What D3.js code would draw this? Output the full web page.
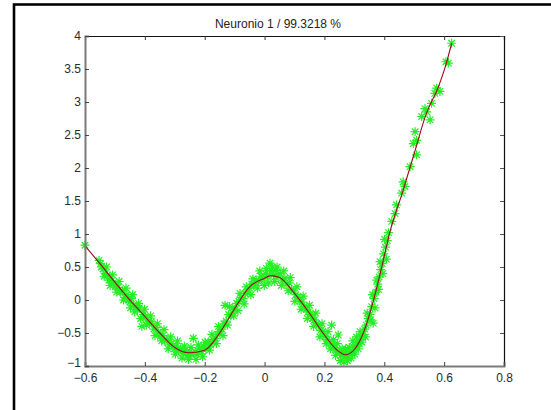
<!DOCTYPE html>
<html><head><meta charset="utf-8">
<script src="https://cdn.jsdelivr.net/npm/d3@7"></script>
<style>
html,body{margin:0;padding:0;background:#fff;}
svg{display:block;}
text{font-family:"Liberation Sans",Arial,sans-serif;}
</style></head>
<body>
<script>
// ---- data ----
const title = "Neuronio 1 / 99.3218 %";
const xTicks = [-0.6,-0.4,-0.2,0,0.2,0.4,0.6,0.8];
const yTicks = [-1,-0.5,0,0.5,1,1.5,2,2.5,3,3.5,4];

// fitted curve (red line)
const curveX = [-0.6,-0.55,-0.5,-0.46,-0.4,-0.35,-0.3,-0.255,-0.2,-0.15,-0.1,-0.05,0.0,0.02,0.05,0.1,0.15,0.2,0.24,0.27,0.3,0.33,0.36,0.39,0.42,0.46,0.5,0.54,0.58,0.605,0.625];
const curveY = [0.82,0.55,0.27,0.05,-0.25,-0.5,-0.72,-0.8,-0.76,-0.5,-0.13,0.2,0.33,0.37,0.34,0.1,-0.2,-0.53,-0.75,-0.83,-0.75,-0.5,-0.07,0.47,1.05,1.62,2.22,2.82,3.22,3.55,3.89];

// training samples (green asterisks)
const sampleX = [
-0.600,-0.548,-0.545,-0.540,-0.532,-0.525,-0.520,-0.512,-0.505,-0.498,-0.490,-0.482,-0.475,-0.468,-0.460,-0.455,-0.450,-0.445,-0.438,-0.430,-0.425,-0.418,-0.410,-0.405,-0.398,-0.392,
-0.385,-0.378,-0.370,-0.362,-0.355,-0.348,-0.340,-0.333,-0.326,-0.318,-0.310,-0.302,-0.295,-0.288,-0.280,-0.272,-0.265,-0.258,-0.250,-0.243,-0.238,-0.232,-0.225,-0.218,-0.210,-0.203,-0.196,-0.188,-0.180,-0.172,-0.165,-0.158,-0.150,-0.143,-0.136,-0.132,-0.128,-0.120,-0.113,-0.106,-0.100,
-0.093,-0.086,-0.079,-0.072,-0.065,-0.058,-0.050,-0.043,-0.036,-0.028,-0.020,-0.012,-0.005,0.003,0.010,0.018,0.022,0.030,0.038,0.045,0.052,0.060,0.068,0.075,0.082,0.090,0.097,0.104,0.111,0.118,0.125,0.132,0.139,0.146,0.153,0.160,0.167,0.174,0.181,0.188,0.195,0.202,
0.209,0.216,0.224,0.226,0.233,0.240,0.246,0.250,0.256,0.262,0.268,0.274,0.280,0.286,0.292,0.298,0.304,0.310,0.316,0.322,0.328,0.334,0.340,0.346,0.352,0.358,0.363,0.366,0.372,0.378,0.383,0.388,0.393,0.398,0.404,0.410,
0.425,0.436,0.441,0.458,0.463,0.469,0.486,0.497,0.503,0.508,0.508,0.525,0.536,0.542,0.553,0.558,0.569,0.575,0.586,0.606,0.614,0.625,
-0.553,-0.536,-0.528,-0.516,-0.508,-0.494,-0.486,-0.471,-0.463,-0.448,-0.441,-0.434,-0.421,-0.414,-0.401,-0.395,
-0.381,-0.366,-0.358,-0.344,-0.336,-0.322,-0.314,-0.298,-0.291,-0.276,-0.268,-0.254,-0.246,-0.229,-0.221,-0.207,-0.199,-0.184,-0.176,-0.161,-0.154,-0.139,-0.124,-0.117,-0.103,
-0.089,-0.082,-0.068,-0.061,-0.046,-0.039,-0.024,-0.016,-0.001,0.006,0.014,0.026,0.034,0.042,0.056,0.064,0.079,0.086,0.101,0.108,0.122,0.129,0.143,0.150,0.164,0.171,0.185,0.192,0.206,
0.212,0.220,0.230,0.237,0.243,0.253,0.259,0.265,0.271,0.277,0.283,0.289,0.295,0.301,0.307,0.313,0.319,0.325,0.337,0.343,0.355,0.361,0.369,0.375,0.381,0.386,0.395,0.401,0.407,0.414
];
const sampleY = [
0.83,0.55,0.50,0.47,0.40,0.38,0.30,0.29,0.26,0.20,0.19,0.12,0.14,0.04,0.08,0.00,-0.03,0.02,-0.08,-0.10,-0.15,-0.12,-0.40,-0.22,-0.26,-0.30,
-0.36,-0.33,-0.44,-0.42,-0.50,-0.55,-0.54,-0.62,-0.60,-0.68,-0.66,-0.74,-0.70,-0.77,-0.74,-0.80,-0.76,-0.84,-0.79,-0.83,-0.58,-0.78,-0.82,-0.74,-0.78,-0.70,-0.74,-0.64,-0.68,-0.60,-0.58,-0.52,-0.48,-0.44,-0.36,-0.08,-0.32,-0.22,-0.24,-0.12,-0.15,
-0.05,-0.02,0.04,0.02,0.10,0.12,0.18,0.24,0.22,0.30,0.28,0.36,0.32,0.40,0.36,0.56,0.44,0.38,0.45,0.36,0.40,0.30,0.33,0.24,0.26,0.16,0.14,0.08,0.04,-0.02,-0.03,-0.10,-0.14,-0.18,-0.22,-0.28,-0.30,-0.36,-0.38,-0.46,-0.48,-0.55,
-0.60,-0.62,-0.38,-0.68,-0.72,-0.76,-0.53,-0.80,-0.84,-0.80,-0.86,-0.82,-0.84,-0.78,-0.80,-0.72,-0.70,-0.64,-0.66,-0.56,-0.52,-0.44,-0.38,-0.28,-0.22,-0.10,-0.35,0.02,0.12,0.24,0.35,0.46,0.55,0.70,0.80,0.90,
1.19,1.31,1.44,1.62,1.79,1.72,2.02,2.37,2.55,2.42,2.20,2.78,2.90,2.85,2.73,2.98,3.13,3.21,3.16,3.61,3.59,3.89,
0.60,0.36,0.50,0.22,0.38,0.12,0.28,0.00,0.18,-0.12,0.08,-0.18,-0.05,-0.28,-0.14,-0.38,
-0.24,-0.54,-0.36,-0.62,-0.45,-0.74,-0.56,-0.82,-0.62,-0.88,-0.70,-0.90,-0.72,-0.90,-0.68,-0.86,-0.64,-0.76,-0.52,-0.66,-0.40,-0.54,-0.38,-0.10,-0.24,
-0.16,0.10,-0.06,0.20,0.08,0.32,0.18,0.44,0.22,0.48,0.26,0.50,0.28,0.50,0.22,0.44,0.14,0.34,-0.02,0.20,-0.14,0.06,-0.28,-0.08,-0.40,-0.20,-0.56,-0.36,-0.66,
-0.48,-0.74,-0.60,-0.84,-0.66,-0.92,-0.74,-0.94,-0.74,-0.92,-0.72,-0.88,-0.62,-0.82,-0.56,-0.74,-0.48,-0.64,-0.56,-0.20,-0.30,0.08,-0.12,0.30,0.16,0.58,0.40,0.92,0.62,1.02
];

// ---- drawing ----
const W = 551, H = 410;
const svg = d3.select("body").append("svg").attr("width", W).attr("height", H);

// outer figure frame
svg.append("rect").attr("x", 14).attr("y", 4.5).attr("width", 600).attr("height", 500)
  .attr("fill", "none").attr("stroke", "#000").attr("stroke-width", 2.6);

const L = 85, R = 504, T = 36, B = 366;
const x = d3.scaleLinear().domain([-0.6, 0.8]).range([L, R]);
const y = d3.scaleLinear().domain([-1, 4]).range([B, T]);

const fmt = d => d3.format("")(+d.toFixed(1));
const box = svg.append("g");
// top axis
box.append("g").attr("transform", `translate(0,${T})`)
  .call(d3.axisTop(x).tickValues(xTicks).tickSize(-4).tickFormat(""))
  .call(g => { g.select(".domain").attr("stroke", "#111").attr("stroke-width", 1.2); g.selectAll(".tick line").attr("stroke", "#333"); });
// right axis
box.append("g").attr("transform", `translate(${R},0)`)
  .call(d3.axisRight(y).tickValues(yTicks).tickSize(-4).tickFormat(""))
  .call(g => { g.select(".domain").attr("stroke", "#111").attr("stroke-width", 1.2); g.selectAll(".tick line").attr("stroke", "#555"); });

// samples (asterisks)
const samples = sampleX.map((v, i) => [v, sampleY[i]]);
const s = 4.5;
const ast = svg.append("g").attr("stroke", "#22ee22").attr("stroke-width", 1.2).attr("fill", "none");
ast.selectAll("path").data(samples).join("path")
  .attr("d", d => {
    const cx = x(d[0]), cy = y(d[1]), k = s * 0.72;
    return `M${cx - s},${cy}H${cx + s}M${cx},${cy - s}V${cy + s}M${cx - k},${cy - k}L${cx + k},${cy + k}M${cx - k},${cy + k}L${cx + k},${cy - k}`;
  });

// fitted curve
const curve = curveX.map((v, i) => [v, curveY[i]]);
svg.append("path").datum(curve)
  .attr("fill", "none").attr("stroke", "#9a0a1e").attr("stroke-width", 1.1)
  .attr("d", d3.line().x(d => x(d[0])).y(d => y(d[1])).curve(d3.curveMonotoneX));

const styleAxis = g => {
  g.select(".domain").attr("stroke", "#7a7a7a").attr("stroke-width", 2);
  g.selectAll(".tick line").attr("stroke", "#444");
  g.selectAll(".tick text").attr("fill", "#2a2a2a").attr("font-size", 12).attr("font-family", "'Liberation Sans',Arial,sans-serif");
};
// bottom axis
svg.append("g").attr("transform", `translate(0,${B})`)
  .call(d3.axisBottom(x).tickValues(xTicks).tickSize(-4).tickPadding(7).tickFormat(fmt))
  .call(styleAxis);
// left axis
svg.append("g").attr("transform", `translate(${L},0)`)
  .call(d3.axisLeft(y).tickValues(yTicks).tickSize(-4).tickPadding(4).tickFormat(fmt))
  .call(styleAxis)
  .call(g => g.selectAll(".tick text").filter(d => d === -1).attr("dy", "0.05em"));

// title
svg.append("text").attr("x", 278).attr("y", 28).attr("text-anchor", "middle")
  .attr("font-size", 12).attr("fill", "#222").text(title);
</script>
</body></html>
